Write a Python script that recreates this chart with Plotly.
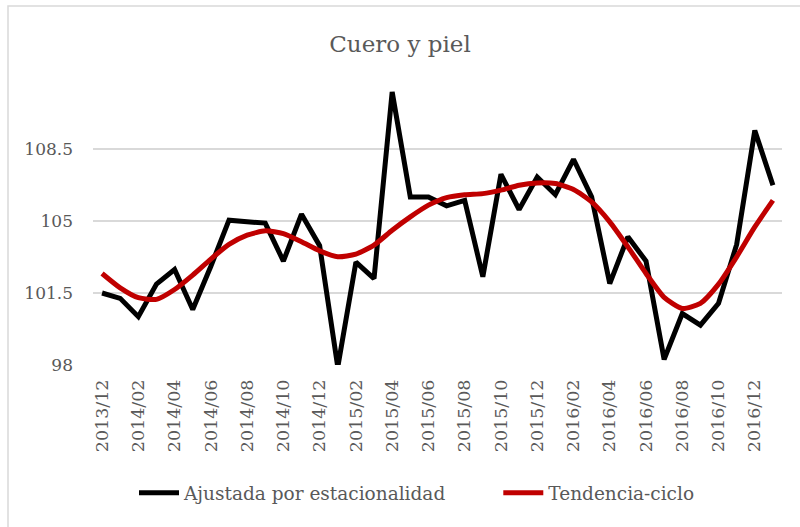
import plotly.graph_objects as go

months = []
y, m = 2013, 12
for _ in range(38):
    months.append(f"{y}/{m:02d}")
    m += 1
    if m > 12:
        m = 1
        y += 1

ajustada = [101.5, 101.24, 100.35, 101.93, 102.64, 100.7, 102.8, 105.04, 104.96, 104.9,
            103.05, 105.33, 103.8, 97.9, 103.0, 102.2, 111.27, 106.17, 106.17, 105.74,
            106.0, 102.29, 107.27, 105.56, 107.14, 106.28, 108.0, 106.17, 101.96, 104.23,
            103.05, 98.27, 100.5, 99.94, 101.0, 103.86, 109.4, 106.74]

tendencia = [102.45, 101.75, 101.27, 101.19, 101.67, 102.37, 103.15, 103.86, 104.31, 104.52,
             104.39, 103.99, 103.55, 103.26, 103.39, 103.83, 104.55, 105.2, 105.77, 106.14,
             106.28, 106.33, 106.5, 106.74, 106.85, 106.82, 106.53, 105.93, 104.96, 103.74,
             102.45, 101.29, 100.75, 101.0, 101.93, 103.26, 104.71, 106.0]

y_ticks = [98, 101.5, 105, 108.5]
y_tick_text = ["98", "101.5", "105", "108.5"]

FONT = "DejaVu Serif"
GRAY = "#595959"
GAP = "\u00a0" * 8

fig = go.Figure()
fig.add_trace(go.Scatter(x=months, y=ajustada, mode="lines", name="Ajustada por estacionalidad" + GAP,
                         line=dict(color="#000000", width=5)))
fig.add_trace(go.Scatter(x=months, y=tendencia, mode="lines", name="Tendencia-ciclo",
                         line=dict(color="#C00000", width=5, shape="spline", smoothing=0.6)))

fig.update_layout(
    width=800, height=527,
    margin=dict(l=93, r=18, t=77, b=162, autoexpand=False),
    paper_bgcolor="white", plot_bgcolor="white",
    font=dict(family=FONT, color=GRAY, size=17),
    title=dict(text="Cuero y piel", x=0.5, xanchor="center", y=1 - 44 / 527, yanchor="middle",
               font=dict(family=FONT, size=23, color=GRAY)),
    showlegend=True,
    legend=dict(orientation="h", x=(134 - 93) / 689, xanchor="left", y=-0.445, yanchor="middle",
                font=dict(family=FONT, size=18.5, color=GRAY), itemwidth=40,
                tracegroupgap=0),
    xaxis=dict(type="category", tickmode="array", tickvals=months[::2], ticktext=months[::2],
               tickangle=-90, showgrid=False, showline=False, ticks="", ticklabelstandoff=10,
               tickfont=dict(family=FONT, size=17.5, color=GRAY), range=[-0.5, 37.5]),
    yaxis=dict(range=[98, 112], tickmode="array", tickvals=y_ticks, ticktext=y_tick_text,
               showgrid=True, gridcolor="#D9D9D9", gridwidth=1.5, zeroline=False,
               showline=False, ticks="", ticklabelstandoff=19,
               tickfont=dict(family=FONT, size=17, color=GRAY)),
)

fig.add_shape(type="rect", xref="paper", yref="paper",
              x0=-85 / 689, x1=1.2, y0=-1.0, y1=1 + 71 / 288,
              line=dict(color="#D9D9D9", width=1.5), fillcolor="rgba(0,0,0,0)", layer="below")

fig.write_html("out.html", config={"displayModeBar": False},
               post_script="document.body.style.margin='0';")
